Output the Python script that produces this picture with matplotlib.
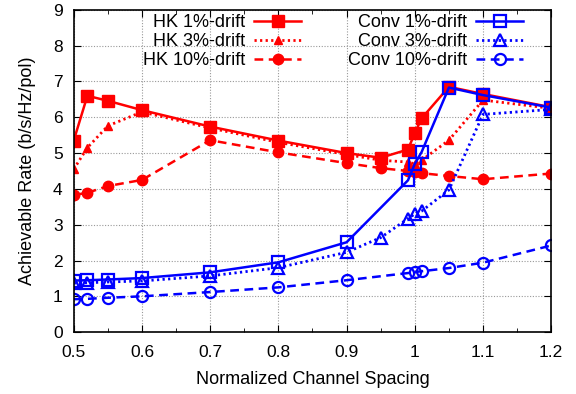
import numpy as np
import matplotlib
matplotlib.use('Agg')
import matplotlib.pyplot as plt
from matplotlib.ticker import MultipleLocator

plt.rcParams['font.family'] = ['Liberation Sans', 'DejaVu Sans']

# channel spacing values
x_hk = [0.5, 0.52, 0.55, 0.6, 0.7, 0.8, 0.9, 0.95, 0.99, 1.0, 1.01, 1.05, 1.1, 1.2]
hk_1 = [5.35, 6.6, 6.46, 6.2, 5.74, 5.35, 5.0, 4.87, 5.1, 5.56, 5.97, 6.85, 6.65, 6.28]
hk_3 = [4.55, 5.15, 5.76, 6.15, 5.7, 5.3, 4.96, 4.8, 4.75, 4.7, 4.8, 5.36, 6.48, 6.25]
hk_10 = [3.83, 3.89, 4.08, 4.25, 5.36, 5.02, 4.72, 4.58, 4.5, 4.46, 4.44, 4.36, 4.27, 4.43]

x_conv1 = [0.5, 0.52, 0.55, 0.6, 0.7, 0.8, 0.9, 0.99, 1.0, 1.01, 1.05, 1.1, 1.2]
conv_1 = [1.44, 1.45, 1.47, 1.51, 1.67, 1.95, 2.51, 4.24, 4.7, 5.03, 6.83, 6.62, 6.27]
x_conv3 = [0.5, 0.52, 0.55, 0.6, 0.7, 0.8, 0.9, 0.95, 0.99, 1.0, 1.01, 1.05, 1.1, 1.2]
conv_3 = [1.37, 1.38, 1.4, 1.43, 1.57, 1.8, 2.23, 2.64, 3.17, 3.3, 3.38, 3.97, 6.08, 6.22]
x_conv10 = [0.5, 0.52, 0.55, 0.6, 0.7, 0.8, 0.9, 0.99, 1.0, 1.01, 1.05, 1.1, 1.2]
conv_10 = [0.92, 0.93, 0.96, 1.0, 1.12, 1.25, 1.45, 1.65, 1.68, 1.7, 1.79, 1.94, 2.42]

xtick_labels = ['0.5', '0.6', '0.7', '0.8', '0.9', '1', '1.1', '1.2']

red = '#ff0000'
blue = '#0000ff'
dot = (0, (0.8, 1.2))
dash = (0, (3.5, 2.2))

fig = plt.figure(figsize=(5.76, 3.94), dpi=100)
ax = fig.add_axes([0.128, 0.157, 0.829, 0.818])

ax.plot(x_hk, hk_1, color=red, lw=1.8, marker='s', ms=8, label='HK 1%-drift')
ax.plot(x_hk, hk_3, color=red, lw=2, ls=dot, marker='^', ms=6, label='HK 3%-drift')
ax.plot(x_hk, hk_10, color=red, lw=1.8, ls=dash, marker='o', ms=7.5, label='HK 10%-drift')
ax.plot(x_conv1, conv_1, color=blue, lw=1.8, marker='s', ms=8, mfc='none', mew=1.6,
        label='Conv 1%-drift')
ax.plot(x_conv3, conv_3, color=blue, lw=2, ls=dot, marker='^', ms=8, mfc='none', mew=1.6,
        label='Conv 3%-drift')
ax.plot(x_conv10, conv_10, color=blue, lw=1.8, ls=dash, marker='o', ms=8, mfc='none', mew=1.6,
        label='Conv 10%-drift')

ax.set_xlim(0.5, 1.2)
ax.set_ylim(0, 9)
ax.set_xticks(np.arange(0.5, 1.21, 0.1))
ax.set_xticklabels(xtick_labels)
ax.xaxis.set_minor_locator(MultipleLocator(0.05))
ax.yaxis.set_major_locator(MultipleLocator(1))
ax.tick_params(which='both', direction='in', top=True, right=True, labelsize=12.5)
ax.tick_params(axis='x', pad=9)
ax.tick_params(axis='y', pad=8)
ax.tick_params(which='major', length=5)
ax.tick_params(which='minor', length=3)
ax.grid(True, which='major', color='#999999', ls=(0, (1, 1.5)), lw=0.8)
for s in ax.spines.values():
    s.set_linewidth(1.2)

ax.set_xlabel('Normalized Channel Spacing', fontsize=13, labelpad=8)
ax.set_ylabel('Achievable Rate (b/s/Hz/pol)', fontsize=13, labelpad=12)

leg = ax.legend(ncol=2, loc='upper right', bbox_to_anchor=(0.96, 1.015), frameon=False,
                markerfirst=False, fontsize=13, handlelength=2.6, labelspacing=0.12,
                columnspacing=2.6, handletextpad=0.5, borderaxespad=0.1)
for t in leg.get_texts():
    t.set_ha('right')

fig.savefig('out.png', dpi=100)
